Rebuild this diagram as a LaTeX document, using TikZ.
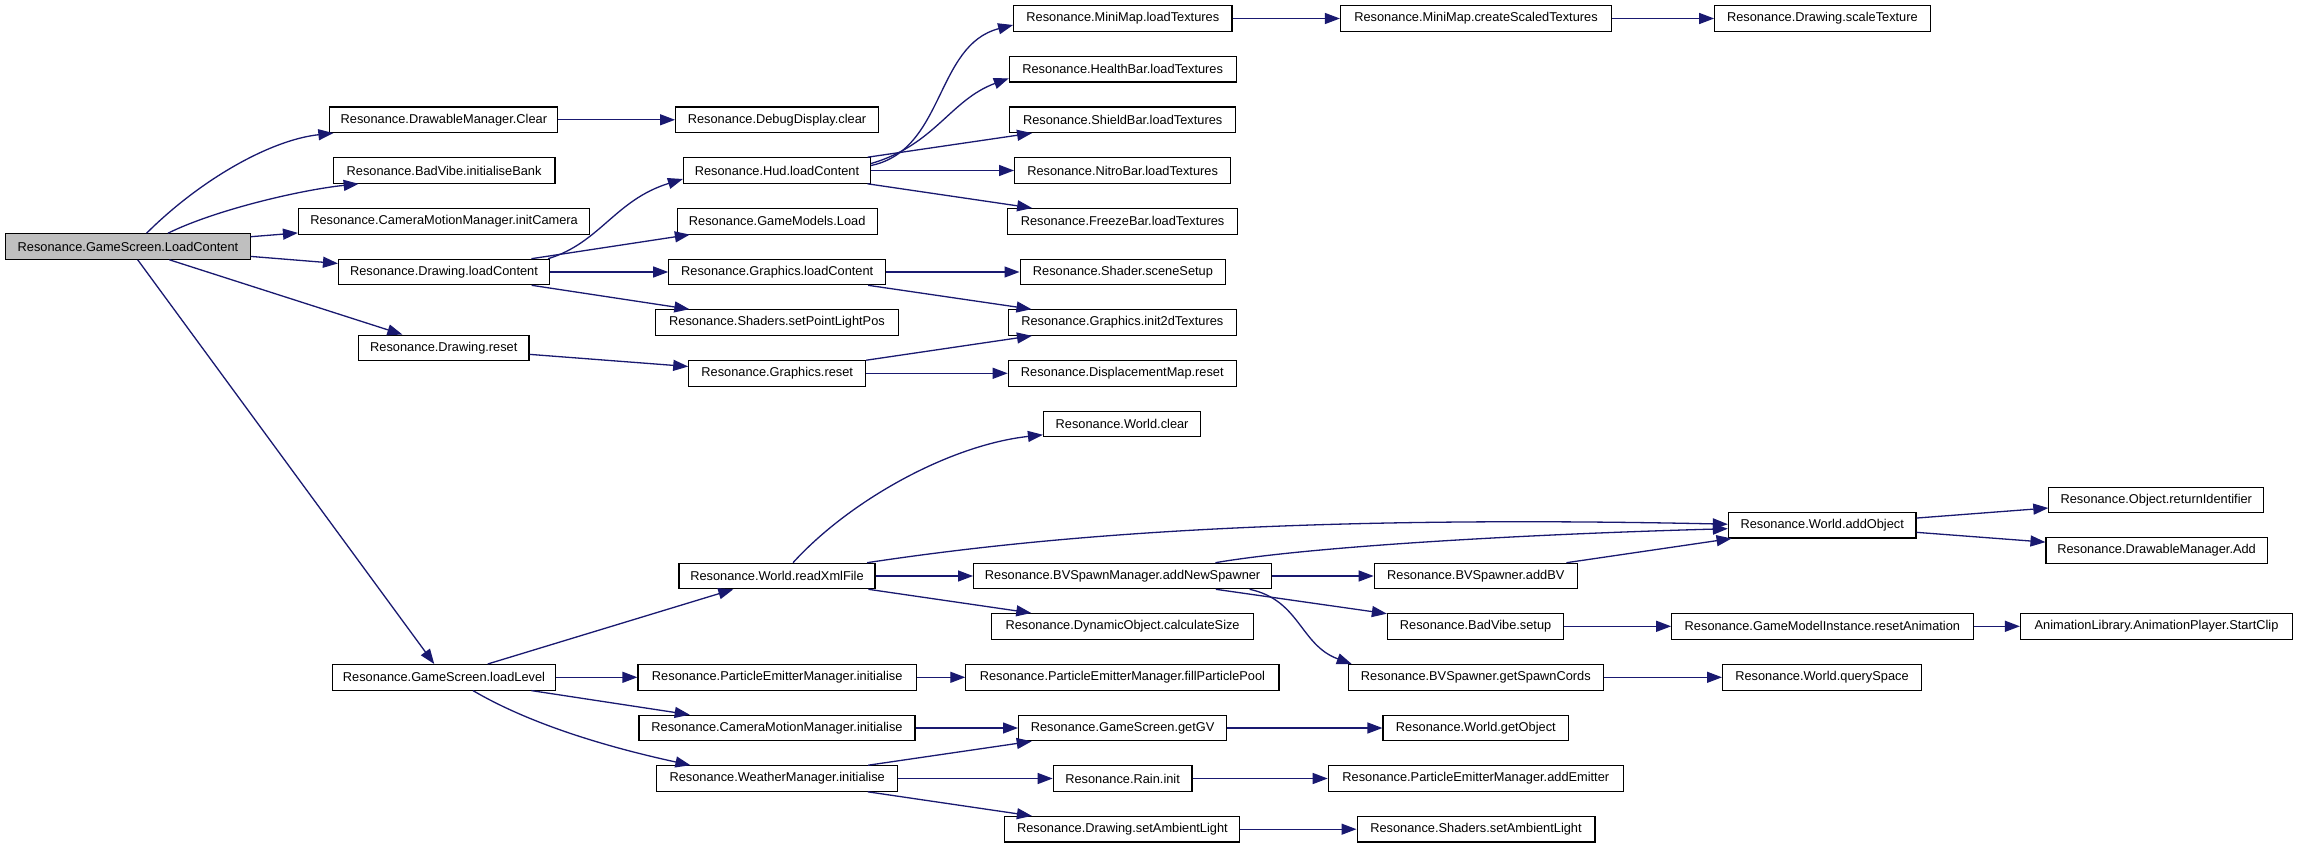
\documentclass[tikz,border=0pt]{standalone}
\usepackage{fontspec}
\setmainfont{Liberation Sans}
\usetikzlibrary{arrows.meta}
\definecolor{edgeblue}{HTML}{191970}
\definecolor{rootgray}{HTML}{BFBFBF}
\tikzset{
  fn/.style={draw=black, line width=1.1pt, fill=white, minimum height=25.5pt, inner sep=0pt,
    font=\fontsize{12.8}{15}\selectfont},
  root/.style={fn, fill=rootgray},
  edge/.style={draw=edgeblue, line width=1.3pt, -{Triangle[length=15pt,width=11pt]}}
}
\begin{document}
\begin{tikzpicture}[x=1pt,y=-1pt]
\useasboundingbox[fill=white] (0,0) rectangle (2299,848);
% column 0
\node[root, minimum width=244.2pt] (lc) at (128,246.5) {Resonance.GameScreen.LoadContent};
% column 1
\node[fn, minimum width=228pt] (dmclear) at (443.9,119.8) {Resonance.DrawableManager.Clear};
\node[fn, minimum width=221.8pt] (bvbank) at (444.1,170.5) {Resonance.BadVibe.initialiseBank};
\node[fn, minimum width=291.2pt] (initcam) at (444.1,221.3) {Resonance.CameraMotionManager.initCamera};
\node[fn, minimum width=211pt] (dlc) at (444,272) {Resonance.Drawing.loadContent};
\node[fn, minimum width=170.4pt] (dreset) at (443.8,347.8) {Resonance.Drawing.reset};
\node[fn, minimum width=223.7pt] (loadlevel) at (444,677.3) {Resonance.GameScreen.loadLevel};
% column 2
\node[fn, minimum width=202.8pt] (ddclear) at (777,119.8) {Resonance.DebugDisplay.clear};
\node[fn, minimum width=187.1pt] (hud) at (777,170.5) {Resonance.Hud.loadContent};
\node[fn, minimum width=200.3pt] (gmload) at (777.2,221.3) {Resonance.GameModels.Load};
\node[fn, minimum width=216.9pt] (glc) at (777.2,272) {Resonance.Graphics.loadContent};
\node[fn, minimum width=242.8pt] (spl) at (777,322.5) {Resonance.Shaders.setPointLightPos};
\node[fn, minimum width=176.9pt] (greset) at (777.2,373.3) {Resonance.Graphics.reset};
\node[fn, minimum width=196pt] (rxf) at (777,576) {Resonance.World.readXmlFile};
\node[fn, minimum width=278.5pt] (pemi) at (777.2,677.3) {Resonance.ParticleEmitterManager.initialise};
\node[fn, minimum width=276pt] (cmmi) at (777,728) {Resonance.CameraMotionManager.initialise};
\node[fn, minimum width=241.3pt] (wmi) at (777.2,778.5) {Resonance.WeatherManager.initialise};
% column 3
\node[fn, minimum width=218.3pt] (mmlt) at (1122.8,18.5) {Resonance.MiniMap.loadTextures};
\node[fn, minimum width=226.7pt] (hblt) at (1122.7,69.3) {Resonance.HealthBar.loadTextures};
\node[fn, minimum width=225.7pt] (sblt) at (1122.7,119.8) {Resonance.ShieldBar.loadTextures};
\node[fn, minimum width=216pt] (nblt) at (1122.6,170.5) {Resonance.NitroBar.loadTextures};
\node[fn, minimum width=229.6pt] (fblt) at (1122.6,221.3) {Resonance.FreezeBar.loadTextures};
\node[fn, minimum width=205.7pt] (sss) at (1122.9,272) {Resonance.Shader.sceneSetup};
\node[fn, minimum width=228.1pt] (gi2d) at (1122.3,322.5) {Resonance.Graphics.init2dTextures};
\node[fn, minimum width=228.1pt] (dmr) at (1122.3,373.3) {Resonance.DisplacementMap.reset};
\node[fn, minimum width=157.3pt] (wclear) at (1122.1,423.8) {Resonance.World.clear};
\node[fn, minimum width=298pt] (ans) at (1122.6,576) {Resonance.BVSpawnManager.addNewSpawner};
\node[fn, minimum width=261.8pt] (dcs) at (1122.6,626.3) {Resonance.DynamicObject.calculateSize};
\node[fn, minimum width=313.1pt] (fpp) at (1122.4,677.3) {Resonance.ParticleEmitterManager.fillParticlePool};
\node[fn, minimum width=208.1pt] (getgv) at (1122.6,728) {Resonance.GameScreen.getGV};
\node[fn, minimum width=138.8pt] (rain) at (1122.6,778.5) {Resonance.Rain.init};
\node[fn, minimum width=235pt] (dsal) at (1122.4,829.2) {Resonance.Drawing.setAmbientLight};
% column 4
\node[fn, minimum width=271.1pt] (mmcst) at (1476,18.5) {Resonance.MiniMap.createScaledTextures};
\node[fn, minimum width=203.2pt] (addbv) at (1475.8,576) {Resonance.BVSpawner.addBV};
\node[fn, minimum width=176.4pt] (bvsetup) at (1475.6,626.3) {Resonance.BadVibe.setup};
\node[fn, minimum width=255pt] (gsc) at (1475.8,677.3) {Resonance.BVSpawner.getSpawnCords};
\node[fn, minimum width=185.6pt] (wgo) at (1475.8,728) {Resonance.World.getObject};
\node[fn, minimum width=295.1pt] (pemae) at (1475.8,778.5) {Resonance.ParticleEmitterManager.addEmitter};
\node[fn, minimum width=237.9pt] (ssal) at (1476,829.2) {Resonance.Shaders.setAmbientLight};
% column 5
\node[fn, minimum width=215.4pt] (dst) at (1822.4,18.5) {Resonance.Drawing.scaleTexture};
\node[fn, minimum width=187.6pt] (addobj) at (1822.2,525.2) {Resonance.World.addObject};
\node[fn, minimum width=301.4pt] (gmira) at (1822.4,626.3) {Resonance.GameModelInstance.resetAnimation};
\node[fn, minimum width=198.9pt] (wqs) at (1822,677.3) {Resonance.World.querySpace};
% column 6
\node[fn, minimum width=214.9pt] (ori) at (2156.3,499.8) {Resonance.Object.returnIdentifier};
\node[fn, minimum width=221.2pt] (dmadd) at (2156.6,550.5) {Resonance.DrawableManager.Add};
\node[fn, minimum width=272.1pt] (apsc) at (2156.5,626.3) {AnimationLibrary.AnimationPlayer.StartClip};

% curved edges
\draw[edge] ([xshift=18.6pt]lc.north) .. controls (200,180) and (270,140) .. ([xshift=4pt]dmclear.south west);
\draw[edge] ([xshift=40pt]lc.north) .. controls (215,210) and (300,190) .. ([xshift=26pt]bvbank.south west);
\draw[edge] ([xshift=-2pt]dlc.north east) .. controls (600,243) and (615,200) .. ([yshift=-8.5pt]hud.west);
\draw[edge] ([yshift=5pt]hud.east) .. controls (945,150) and (935,45) .. ([yshift=-6.5pt]mmlt.west);
\draw[edge] ([yshift=7pt]hud.east) .. controls (935,145) and (950,100) .. ([yshift=-9pt]hblt.west);
\draw[edge] ([xshift=16pt]rxf.north) .. controls (850,500) and (950,445) .. ([yshift=-11pt]wclear.west);
\draw[edge] ([xshift=-8.5pt]rxf.north east) .. controls (1050,535) and (1300,515) .. ([yshift=1pt]addobj.west);
\draw[edge] ([xshift=92.8pt]ans.north) .. controls (1300,548) and (1500,535) .. ([yshift=-3.5pt]addobj.west);
\draw[edge] ([xshift=127pt]ans.south) .. controls (1300,600) and (1300,645) .. ([xshift=4pt]gsc.north west);
\draw[edge] ([xshift=29pt]loadlevel.south) .. controls (540,730) and (630,752) .. ([xshift=34.4pt]wmi.north west);

% straight edges
\foreach \a/\b in {lc/initcam, lc/dlc, lc/dreset, lc/loadlevel,
  dmclear/ddclear, dlc/gmload, dlc/glc, dlc/spl, dreset/greset,
  hud/sblt, hud/nblt, hud/fblt, glc/sss, glc/gi2d, greset/gi2d, greset/dmr,
  mmlt/mmcst, mmcst/dst, loadlevel/rxf, loadlevel/pemi, loadlevel/cmmi,
  rxf/ans, rxf/dcs, ans/addbv, ans/bvsetup, addbv/addobj, addobj/ori, addobj/dmadd,
  bvsetup/gmira, gmira/apsc, gsc/wqs, pemi/fpp, cmmi/getgv, getgv/wgo,
  wmi/getgv, wmi/rain, wmi/dsal, rain/pemae, dsal/ssal}
  \draw[edge] (\a) -- (\b);
\end{tikzpicture}
\end{document}
